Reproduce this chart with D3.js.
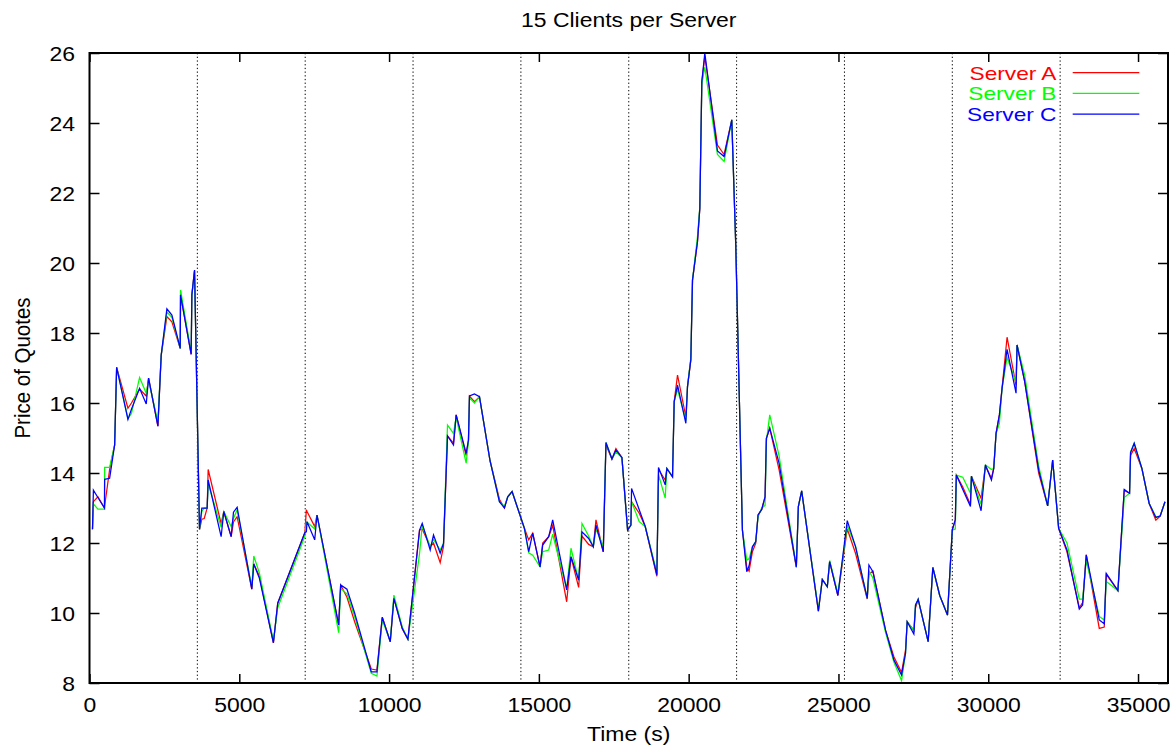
<!DOCTYPE html>
<html>
<head>
<meta charset="utf-8">
<script src="https://cdn.jsdelivr.net/npm/d3@7"></script>
<style>
  html, body { margin: 0; padding: 0; background: #fff; }
  svg { display: block; font-family: "Liberation Sans", Arial, Helvetica, sans-serif; }
</style>
</head>
<body>
<svg id="chart" width="1174" height="747"></svg>
<script>
// Sample times (seconds)
const times = [
  100,130,280,500,505,672,839,906,1283,1400,
  1672,1894,1972,2283,2394,2583,2750,3028,3039,3394,
  3417,3506,3672,3750,3830,3928,3961,4394,4483,4728,
  4806,4928,5417,5483,5672,6139,6283,7190,7239,7261,
  7517,7594,8317,8383,8594,8850,9406,9594,9772,10039,
  10161,10439,10628,11017,11106,11372,11483,11706,11817,11950,
  12150,12239,12572,12650,12683,12850,13017,13370,13683,13850,
  13961,14106,14517,14661,14794,15039,15128,15328,15461,15928,
  16072,16328,16439,16661,16817,16906,17150,17239,17439,17572,
  17772,17961,18072,18094,18350,18550,18939,18994,19217,19272,
  19461,19517,19628,19906,19961,20072,20128,20294,20372,20439,
  20539,20961,21183,21439,21572,21794,21939,22017,22128,22239,
  22317,22439,22550,22594,22706,23017,23594,23661,23772,24330,
  24461,24628,24706,24980,25294,25572,25961,26017,26150,26572,
  26850,27106,27239,27294,27517,27572,27661,27994,28150,28380,
  28639,28800,28900,28935,29150,29406,29439,29761,29906,30106,
  30183,30261,30372,30461,30628,30928,30961,31217,31683,31983,
  32150,32350,32628,33039,33150,33272,33706,33872,33939,34328,
  34539,34717,34750,34872,35128,35372,35594,35739,35900
];

// Price of quotes per server
const serverA = [
  12.39,13.18,13.32,13.00,13.05,14.10,14.80,17.02,15.85,16.00,
  16.40,16.20,16.71,15.34,17.37,18.47,18.32,17.56,19.09,17.39,
  19.09,19.80,12.39,12.68,12.70,13.00,14.10,12.55,12.90,12.18,
  12.60,12.75,10.68,11.40,11.05,9.15,10.28,12.30,12.95,12.90,
  12.47,12.80,9.66,10.80,10.45,9.75,8.40,8.37,9.88,9.18,
  10.42,9.56,9.25,12.37,12.40,11.90,12.00,11.44,11.90,15.06,
  14.85,15.66,14.50,14.94,16.20,16.04,16.18,14.35,13.25,13.00,
  13.32,13.47,12.42,12.09,12.28,11.32,12.00,12.18,12.50,10.32,
  11.60,10.73,12.20,11.96,11.89,12.66,11.75,14.80,14.40,14.70,
  14.44,12.37,12.51,13.18,12.85,12.47,11.05,14.10,13.80,14.13,
  13.89,16.04,16.80,15.60,16.47,17.23,19.51,20.61,21.56,25.18,
  25.90,23.37,23.10,24.09,20.51,12.37,11.30,11.20,11.75,12.00,
  12.80,12.96,13.32,14.99,15.28,14.10,11.30,13.04,13.49,10.05,
  10.96,10.75,11.47,10.50,12.40,11.70,10.40,11.11,11.20,9.50,
  8.75,8.30,8.95,9.75,9.50,10.15,10.39,9.18,11.30,10.50,
  9.94,12.38,12.66,13.94,13.60,13.10,13.91,13.28,14.20,13.85,
  14.13,15.13,15.66,16.42,17.88,16.50,17.66,16.61,14.00,13.06,
  14.37,12.42,11.75,10.15,10.30,11.66,9.56,9.60,11.10,10.64,
  13.50,13.42,14.50,14.70,14.13,13.13,12.65,12.77,13.18
];

const serverB = [
  12.39,13.12,12.97,12.97,14.16,14.16,14.80,17.02,15.55,15.70,
  16.73,16.28,16.65,15.45,17.37,18.60,18.45,17.56,19.23,17.45,
  19.09,19.75,12.39,12.90,13.00,13.00,13.70,12.45,12.90,12.47,
  12.70,12.95,10.75,11.63,11.14,9.20,10.15,12.20,12.60,12.60,
  12.40,12.80,9.44,10.70,10.55,9.90,8.28,8.20,9.80,9.20,
  10.51,9.60,9.25,11.70,12.50,11.90,12.10,11.80,11.99,15.37,
  15.13,15.60,14.28,14.90,16.15,16.00,16.18,14.35,13.18,13.05,
  13.32,13.47,12.42,11.72,11.65,11.32,11.75,11.80,12.25,10.70,
  11.85,10.94,12.56,12.20,11.89,12.40,11.90,14.87,14.40,14.60,
  14.44,12.37,12.51,13.18,12.61,12.47,11.15,13.95,13.28,14.13,
  13.89,16.04,16.40,15.50,16.47,17.30,19.51,20.75,21.60,25.10,
  25.60,23.10,22.90,24.09,20.51,12.37,11.51,11.55,11.89,12.04,
  12.75,13.00,13.07,14.90,15.66,14.50,11.32,13.04,13.49,10.10,
  10.96,10.75,11.50,10.55,12.50,11.90,10.42,11.20,11.00,9.45,
  8.60,8.07,8.85,9.75,9.50,10.23,10.39,9.18,11.30,10.50,
  9.94,12.37,12.40,13.94,13.88,13.42,13.91,13.10,14.23,14.10,
  14.13,15.13,15.42,16.42,17.30,16.60,17.66,16.80,14.20,13.06,
  14.37,12.42,12.00,10.40,10.40,11.50,9.90,9.80,10.90,10.64,
  13.30,13.42,14.60,14.85,14.13,13.13,12.75,12.77,13.18
];

const serverC = [
  12.39,13.51,13.30,13.00,13.82,13.85,14.80,17.02,15.53,15.82,
  16.42,15.97,16.71,15.34,17.37,18.69,18.51,17.56,19.09,17.39,
  19.09,19.80,12.39,13.00,13.00,13.00,13.80,12.18,12.90,12.18,
  12.88,13.02,10.68,11.40,10.99,9.15,10.28,12.30,12.32,12.61,
  12.09,12.80,9.66,10.80,10.68,10.00,8.32,8.32,9.88,9.18,
  10.42,9.56,9.25,12.37,12.56,11.80,12.23,11.71,11.99,15.06,
  14.80,15.66,14.56,14.94,16.20,16.26,16.18,14.35,13.18,13.00,
  13.32,13.47,12.42,11.75,12.28,11.32,11.94,12.18,12.66,10.66,
  11.61,10.94,12.32,12.13,11.89,12.51,11.75,14.87,14.40,14.66,
  14.44,12.37,12.51,13.56,12.95,12.47,11.09,14.16,13.66,14.13,
  13.89,16.04,16.51,15.42,16.47,17.23,19.51,20.61,21.56,25.18,
  26.00,23.20,23.04,24.09,20.51,12.37,11.18,11.35,11.89,12.04,
  12.80,12.96,13.32,14.99,15.28,14.28,11.32,13.04,13.49,10.05,
  10.96,10.75,11.47,10.50,12.64,11.89,10.42,11.37,11.18,9.51,
  8.66,8.23,8.85,9.75,9.40,10.23,10.39,9.18,11.30,10.50,
  9.94,12.38,12.66,13.94,13.53,13.04,13.91,12.92,14.23,13.80,
  14.13,15.13,15.66,16.42,17.53,16.28,17.66,16.61,14.09,13.06,
  14.37,12.42,11.80,10.11,10.23,11.66,9.80,9.69,11.13,10.64,
  13.53,13.42,14.58,14.85,14.13,13.13,12.73,12.77,13.18
];

const seriesNames = ["Server A", "Server B", "Server C"];
const seriesColors = ["#ff0000", "#00ff00", "#0000ff"];

const xTickValues = [0, 5000, 10000, 15000, 20000, 25000, 30000, 35000];
const yTickValues = [8, 10, 12, 14, 16, 18, 20, 22, 24, 26];
// hourly markers
const hourMarks = [3600, 7200, 10800, 14400, 18000, 21600, 25200, 28800, 32400];

const chartTitle = "15 Clients per Server";
const xTitle = "Time (s)";
const yTitle = "Price of Quotes";

// ---- layout ----
const X0 = 89.5, X1 = 1168, Y0 = 683, Y1 = 53;
const FONT = 20.5;
const STRETCH = "scale(1.12,1)";

const svg = d3.select("#chart");
const x = d3.scaleLinear().domain([0, 36000]).range([X0, X1]);
const y = d3.scaleLinear().domain([8, 26]).range([Y0, Y1]);

// dotted hour markers
svg.append("g").selectAll("line").data(hourMarks).join("line")
  .attr("x1", d => x(d)).attr("x2", d => x(d))
  .attr("y1", Y1).attr("y2", Y0)
  .attr("stroke", "#000").attr("stroke-width", 1)
  .attr("stroke-dasharray", "1.3,2.4");

// series lines
const data = [serverA, serverB, serverC];
const line = d3.line().x((d, i) => x(times[i])).y(d => y(d));
svg.append("g").selectAll("path").data(data).join("path")
  .attr("d", d => line(d))
  .attr("fill", "none")
  .attr("stroke", (d, i) => seriesColors[i])
  .attr("stroke-width", 1.25)
  .attr("stroke-linejoin", "miter");

// axes
function styleTicks(g) {
  g.select(".domain").remove();
  g.selectAll(".tick line").attr("stroke", "#000").attr("stroke-width", 1.5);
}

svg.append("g").attr("transform", `translate(${X0},0)`)
  .call(d3.axisLeft(y).tickValues(yTickValues).tickSize(-10).tickFormat(d3.format("d")))
  .call(styleTicks)
  .call(g => g.selectAll(".tick text")
    .attr("x", null).attr("dy", null)
    .attr("text-anchor", "end")
    .attr("font-size", FONT).attr("font-family", null).attr("fill", "#000")
    .attr("transform", `translate(-14.5,7.3) ${STRETCH}`));

svg.append("g").attr("transform", `translate(${X1},0)`)
  .call(d3.axisRight(y).tickValues(yTickValues).tickSize(-10).tickFormat(""))
  .call(styleTicks);

svg.append("g").attr("transform", `translate(0,${Y0})`)
  .call(d3.axisBottom(x).tickValues(xTickValues).tickSize(-9).tickFormat(d3.format("d")))
  .call(styleTicks)
  .call(g => g.selectAll(".tick text")
    .attr("y", null).attr("dy", null)
    .attr("text-anchor", "middle")
    .attr("font-size", FONT).attr("font-family", null).attr("fill", "#000")
    .attr("transform", `translate(0,29) ${STRETCH}`));

svg.append("g").attr("transform", `translate(0,${Y1})`)
  .call(d3.axisTop(x).tickValues(xTickValues).tickSize(-9).tickFormat(""))
  .call(styleTicks);

// frame
svg.append("rect")
  .attr("x", X0).attr("y", Y1)
  .attr("width", X1 - X0).attr("height", Y0 - Y1)
  .attr("fill", "none").attr("stroke", "#000").attr("stroke-width", 2);

// titles
svg.append("text")
  .attr("transform", `translate(${(X0 + X1) / 2},27) ${STRETCH}`)
  .attr("text-anchor", "middle").attr("font-size", FONT).attr("fill", "#000")
  .text(chartTitle);

svg.append("text")
  .attr("transform", `translate(${(X0 + X1) / 2},741) ${STRETCH}`)
  .attr("text-anchor", "middle").attr("font-size", FONT).attr("fill", "#000")
  .text(xTitle);

svg.append("text")
  .attr("transform", `translate(30,368) ${STRETCH} rotate(-90)`)
  .attr("text-anchor", "middle").attr("font-size", FONT).attr("fill", "#000")
  .text(yTitle);

// legend (slightly smaller type, widened, so rows stay clear of each other)
const legend = svg.append("g").selectAll("g").data(seriesNames).join("g")
  .attr("transform", (d, i) => `translate(0,${72.7 + i * 20.7})`);
legend.append("text")
  .attr("transform", "translate(1056.5,6.8) scale(1.26,1)")
  .attr("text-anchor", "end").attr("font-size", 18)
  .attr("fill", (d, i) => seriesColors[i])
  .text(d => d);
legend.append("line")
  .attr("x1", 1072.7).attr("x2", 1139.3).attr("y1", 0).attr("y2", 0)
  .attr("stroke", (d, i) => seriesColors[i]).attr("stroke-width", 1.25);
</script>
</body>
</html>
